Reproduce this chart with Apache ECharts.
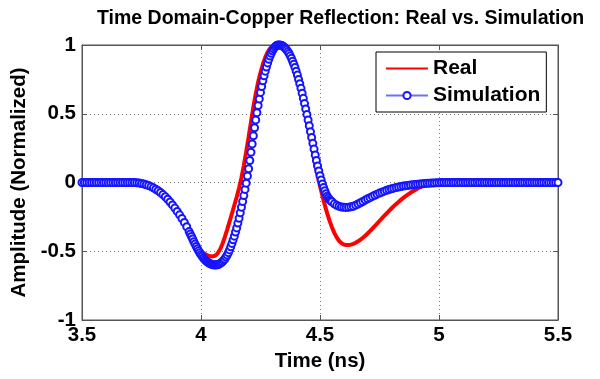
<!DOCTYPE html>
<html>
<head>
<meta charset="utf-8">
<script src="https://cdn.jsdelivr.net/npm/echarts@6/dist/echarts.min.js"></script>
<style>
html,body{margin:0;padding:0;background:#fff;}
#chart{width:600px;height:379px;}
</style>
</head>
<body>
<div id="chart"></div>
<script>
// sampling grid of the time axis (ns)
const TIME_START = 3.5;
const TIME_STEP = 0.01;
// extra simulation samples at half steps on the steep part of the pulse
const FINE_START = 3.955;
const TIME_TICKS = [3.5, 4, 4.5, 5, 5.5];
const AMP_TICKS = [-1, -0.5, 0, 0.5, 1];
const SERIES_NAMES = ['Real', 'Simulation'];

// Real (measured) normalized amplitude, one value per 0.01 ns from 3.50 to 5.50
const realAmp = [
  0,0,0,0,0,0,0,0,0,0, 0,0,0,0,0,0,0,0,0,0, 0,0,0,
  -0.002,-0.005,-0.008,-0.012,-0.018,-0.025,-0.033,-0.042,-0.052,-0.064,-0.077,-0.091,-0.106,-0.122,-0.14,-0.16,-0.182,
  -0.205,-0.228,-0.253,-0.28,-0.31,-0.343,-0.378,-0.412,-0.445,-0.473,
  -0.497,-0.513,-0.524,-0.532,-0.537,-0.538,-0.532,-0.515,-0.487,-0.447,
  -0.398,-0.343,-0.285,-0.225,-0.165,-0.105,-0.04,0.035,0.125,0.225,
  0.33,0.44,0.55,0.645,0.73,0.8,0.86,0.91,0.948,0.975,
  0.99,0.998,1.0,0.998,0.99,0.975,0.953,0.924,0.887,0.842,
  0.79,0.725,0.652,0.572,0.488,0.4,0.312,0.222,0.134,0.052,
  -0.025,-0.097,-0.163,-0.223,-0.277,-0.325,-0.366,-0.399,-0.424,-0.441,
  -0.451,-0.455,-0.455,-0.452,-0.446,-0.438,-0.428,-0.416,-0.402,-0.387,
  -0.371,-0.354,-0.336,-0.318,-0.299,-0.28,-0.261,-0.242,-0.224,-0.206,
  -0.189,-0.172,-0.156,-0.141,-0.126,-0.112,-0.099,-0.087,-0.075,-0.064,
  -0.054,-0.044,-0.035,-0.027,-0.02,-0.013,-0.007,-0.002,0.003,0.007,
  0.01,0.012,0.013,0.013,0.012,0.011,0.01,0.01,0.009,0.009,
  0.008,0.008,0.008,0.007,0.007,0.007,0.006,0.006,0.006,0.006,
  0.005,0.005,0.005,0.005,0.005,0.005,0.005,0.005,0.005,0.005,
  0.004,0.004,0.004,0.004,0.004,0.004,0.004,0.004,0.004,0.004,
  0.003,0.003,0.003,0.003,0.003,0.003,0.003,0.003,0.003,0.003,0.003
];

// Simulation normalized amplitude, one value per 0.01 ns from 3.50 to 5.50
const simAmp = [
  0,0,0,0,0,0,0,0,0,0, 0,0,0,0,0,0,0,0,0,0, 0,0,0,
  -0.002,-0.004,-0.007,-0.011,-0.016,-0.022,-0.03,-0.039,-0.049,-0.06,-0.073,-0.088,-0.104,-0.122,-0.142,-0.163,-0.186,
  -0.21,-0.235,-0.262,-0.29,-0.322,-0.357,-0.393,-0.43,-0.465,-0.497,
  -0.525,-0.549,-0.568,-0.582,-0.592,-0.598,-0.6,-0.598,-0.59,-0.576,
  -0.556,-0.528,-0.49,-0.443,-0.39,-0.33,-0.26,-0.18,-0.095,-0.005,
  0.1,0.22,0.34,0.455,0.56,0.655,0.74,0.81,0.87,0.92,
  0.958,0.985,0.998,1.0,0.996,0.984,0.965,0.938,0.903,0.86,
  0.81,0.75,0.685,0.612,0.535,0.455,0.37,0.285,0.2,0.12,
  0.05,-0.01,-0.06,-0.1,-0.125,-0.14,-0.155,-0.166,-0.173,-0.178,
  -0.18,-0.181,-0.18,-0.177,-0.173,-0.165,-0.156,-0.147,-0.138,-0.128,
  -0.119,-0.11,-0.101,-0.093,-0.085,-0.077,-0.07,-0.063,-0.057,-0.051,
  -0.046,-0.041,-0.037,-0.033,-0.029,-0.026,-0.023,-0.021,-0.019,-0.017,
  -0.015,-0.013,-0.011,-0.009,-0.007,-0.006,-0.005,-0.004,-0.003,-0.002,
  -0.001,0,0,0,0,0,0,0,0,0,
  0,0,0,0,0,0,0,0,0,0,
  0,0,0,0,0,0,0,0,0,0, 0,0,0,0,0,0,0,0,0,0, 0,0,0,0,0,0,0,0,0,0,0
];

// Simulation samples at 3.955, 3.965, ... 4.545 ns (between the grid points above)
const simAmpFine = [
  -0.375,-0.411,-0.448,-0.481,-0.511,
  -0.537,-0.559,-0.575,-0.587,-0.595,-0.599,-0.599,-0.594,-0.583,-0.566,
  -0.542,-0.51,-0.467,-0.417,-0.36,-0.295,-0.22,-0.138,-0.05,0.047,
  0.16,0.28,0.398,0.508,0.608,0.698,0.776,0.84,0.896,0.94,
  0.972,0.992,1.0,0.999,0.991,0.975,0.952,0.921,0.882,0.836,
  0.781,0.718,0.649,0.574,0.495,0.413,0.328,0.243,0.16,0.084,
  0.019,-0.036,-0.081,-0.113,-0.133
];

function pairs(vals, start) {
  return vals.map((v, i) => [+(start + i * TIME_STEP).toFixed(3), v]);
}
const realData = pairs(realAmp, TIME_START);
const simData = pairs(simAmp, TIME_START).concat(pairs(simAmpFine, FINE_START))
  .sort((a, b) => a[0] - b[0]);

const FONT = '"Liberation Sans", Arial, sans-serif';
const frameColor = '#555';
const gridLine = { show: true, lineStyle: { color: '#777', type: [1, 3], width: 1 } };

const chart = echarts.init(document.getElementById('chart'), null, { renderer: 'canvas' });
chart.setOption({
  animation: false,
  backgroundColor: '#fff',
  textStyle: { fontFamily: FONT },
  title: {
    text: 'Time Domain-Copper Reflection: Real vs. Simulation',
    left: 92, top: 4,
    textStyle: { fontFamily: FONT, fontWeight: 'bold', fontSize: 19.5, color: '#000' }
  },
  grid: { left: 82, right: 42, top: 45, bottom: 59, show: true, borderColor: frameColor, borderWidth: 1, backgroundColor: 'transparent' },
  legend: {
    data: [
      { name: SERIES_NAMES[0], itemStyle: { opacity: 0 } },
      { name: SERIES_NAMES[1] }
    ],
    orient: 'vertical',
    left: 376, top: 52,
    padding: [6, 6, 6, 9],
    itemGap: 6,
    itemWidth: 42, itemHeight: 9,
    backgroundColor: '#fff',
    borderColor: '#000', borderWidth: 1, borderRadius: 0,
    textStyle: { fontFamily: FONT, fontWeight: 'bold', fontSize: 21, color: '#000', lineHeight: 21 }
  },
  xAxis: [{
    type: 'value', min: 3.5, max: 5.5, interval: 0.5,
    name: 'Time (ns)', nameLocation: 'middle', nameGap: 30,
    nameTextStyle: { fontFamily: FONT, fontWeight: 'bold', fontSize: 20.5, color: '#000' },
    axisLine: { show: true, onZero: false, lineStyle: { color: frameColor } },
    axisTick: { show: true, inside: true, length: 5, lineStyle: { color: frameColor } },
    axisLabel: { fontFamily: FONT, fontWeight: 'bold', fontSize: 20.5, color: '#000', margin: 5,
      formatter: v => (TIME_TICKS.indexOf(v) >= 0 ? String(v) : '') },
    splitLine: gridLine
  }, {
    type: 'value', min: 3.5, max: 5.5, interval: 0.5, position: 'top',
    axisLine: { show: true, onZero: false, lineStyle: { color: frameColor } },
    axisTick: { show: true, inside: true, length: 5, lineStyle: { color: frameColor } },
    axisLabel: { show: false }, splitLine: { show: false }
  }],
  yAxis: [{
    type: 'value', min: -1, max: 1, interval: 0.5,
    name: 'Amplitude (Normalized)', nameLocation: 'middle', nameGap: 47,
    nameTextStyle: { fontFamily: FONT, fontWeight: 'bold', fontSize: 20.5, color: '#000' },
    axisLine: { show: true, onZero: false, lineStyle: { color: frameColor } },
    axisTick: { show: true, inside: true, length: 5, lineStyle: { color: frameColor } },
    axisLabel: { fontFamily: FONT, fontWeight: 'bold', fontSize: 20.5, color: '#000', margin: 6,
      formatter: v => (AMP_TICKS.indexOf(v) >= 0 ? String(v) : '') },
    splitLine: gridLine
  }, {
    type: 'value', min: -1, max: 1, interval: 0.5, position: 'right',
    axisLine: { show: true, onZero: false, lineStyle: { color: frameColor } },
    axisTick: { show: true, inside: true, length: 5, lineStyle: { color: frameColor } },
    axisLabel: { show: false }, splitLine: { show: false }
  }],
  series: [{
    name: SERIES_NAMES[0], type: 'line', xAxisIndex: 0, yAxisIndex: 0,
    data: realData,
    showSymbol: false, symbol: 'none',
    lineStyle: { color: '#ff0000', width: 4 },
    itemStyle: { color: '#ff0000' },
    z: 2
  }, {
    name: SERIES_NAMES[1], type: 'line', xAxisIndex: 0, yAxisIndex: 0,
    data: simData,
    symbol: 'emptyCircle', symbolSize: 7, showSymbol: true, showAllSymbol: true,
    lineStyle: { color: '#6f6fff', width: 1 },
    itemStyle: { color: '#1515ff', borderWidth: 1 },
    z: 3
  }]
});
</script>
</body>
</html>
